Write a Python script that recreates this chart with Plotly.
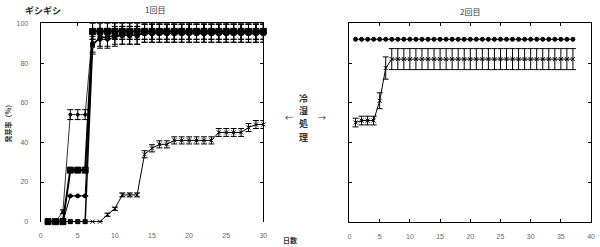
import plotly.graph_objects as go

# ---- data: 1回目 (left) ----
days1 = list(range(1, 31))
ser_a = [0, 0, 5, 54, 54, 54] + [96] * 24
err_a = [0, 0, 1, 2.5, 2.5, 2.5] + [4] * 24
ser_b = [0, 0, 0, 26, 26, 26] + [96] * 24
err_b = [0, 0, 0, 1, 1, 1] + [4] * 24
ser_c = [0, 0, 0, 13, 13, 13, 90, 92, 92, 93, 94, 94, 94] + [95] * 17
err_c = [0] * 6 + [4.5] * 24
ser_d = [0, 0, 0, 0, 0, 0, 89, 93, 93, 94, 94, 94, 94] + [95] * 17
err_d = [0] * 6 + [4.5] * 24
ser_e = [0, 0, 0, 0, 0, 0, 0, 0, 3.5, 6.5, 13.5, 13.5, 13.5, 34, 37, 39, 39,
         41, 41, 41, 41, 41, 41, 45, 45, 45, 45, 47.5, 49, 49]
err_e = [0] * 8 + [0.8, 0.8, 1, 1, 1, 1.8, 1.8, 1.8, 1.8, 1.8, 1.8, 1.8, 1.8,
                   1.8, 1.8, 2, 2, 2, 2, 2, 2, 2]

# ---- data: 2回目 (right) ----
days2 = list(range(1, 38))
ser_f = [92] * 37
ser_g = [50, 51, 51, 51, 61, 77.5] + [82] * 31
err_g = [2.2, 2.2, 2.2, 2.2, 4, 5.6] + [5.3] * 31

x_ticks1 = [0, 5, 10, 15, 20, 25, 30]
x_ticks2 = [0, 5, 10, 15, 20, 25, 30, 35, 40]
y_ticks = [0, 20, 40, 60, 80, 100]

W, H = 600, 247
def px(x):
    return x / W
def py(y):
    return 1 - y / H

fig = go.Figure()

def add(xs, ys, errs, symbol, size, lw, xa, ya, capw=3):
    fig.add_trace(go.Scatter(
        x=xs, y=ys, mode="lines+markers", xaxis=xa, yaxis=ya,
        line=dict(color="black", width=lw),
        marker=dict(symbol=symbol, size=size, color="black",
                    line=dict(color="black", width=1)),
        error_y=dict(type="data", array=errs, color="black",
                     thickness=1, width=capw) if errs is not None else None,
        cliponaxis=False, showlegend=False))

add(days1, ser_e, err_e, "x-thin", 4, 1, "x", "y")
add(days1, ser_a, err_a, "circle", 3, 0.8, "x", "y")
add(days1, ser_c, err_c, "circle", 4, 1, "x", "y")
add(days1, ser_d, err_d, "square", 4, 1.5, "x", "y")
add(days1, ser_b, err_b, "square", 6, 2, "x", "y")

add(days2, ser_f, None, "circle", 4, 1, "x2", "y2")
add(days2, ser_g, err_g, "x-thin", 4, 1, "x2", "y2")

tickfont = dict(family="Liberation Sans, Arial", size=7, color="#666")
dom_y = [py(224), py(20)]

fig.update_layout(
    width=W, height=H, margin=dict(l=0, r=0, t=0, b=0),
    paper_bgcolor="white", plot_bgcolor="white",
    xaxis=dict(domain=[px(39), px(264)], range=[0, 30], tickvals=x_ticks1,
               showline=False, ticks="", showgrid=False, zeroline=False,
               tickfont=tickfont, ticklabelstandoff=8, anchor="y"),
    xaxis3=dict(overlaying="x", side="top", anchor="y", range=[0, 30],
                tickvals=[5, 10, 15, 20, 25], showticklabels=False,
                showline=True, linecolor="black", linewidth=1,
                ticks="inside", ticklen=3, tickcolor="black",
                showgrid=False, zeroline=False),
    yaxis=dict(domain=dom_y, range=[0, 100], tickvals=y_ticks,
               showline=True, linecolor="black", linewidth=1, mirror="ticks",
               ticks="inside", ticklen=3, tickcolor="black",
               showgrid=False, zeroline=False, tickfont=tickfont,
               ticklabelstandoff=10, anchor="x"),
    xaxis2=dict(domain=[px(351), px(595)], range=[0, 40], tickvals=x_ticks2,
                showline=True, linecolor="black", linewidth=1, mirror="ticks",
                ticks="inside", ticklen=3, tickcolor="black",
                showgrid=False, zeroline=False, tickfont=tickfont,
                ticklabelstandoff=8, anchor="y2"),
    yaxis2=dict(domain=dom_y, range=[0, 100], tickvals=y_ticks,
                showticklabels=False,
                showline=True, linecolor="black", linewidth=1, mirror="ticks",
                ticks="inside", ticklen=3, tickcolor="black",
                showgrid=False, zeroline=False, anchor="x2"),
)
# invisible trace so the top axis of the left panel is drawn
fig.add_trace(go.Scatter(x=[0], y=[0], xaxis="x3", yaxis="y", mode="markers",
                         marker=dict(opacity=0), showlegend=False, hoverinfo="skip"))

jp = "Noto Sans CJK JP"
def ann(text, x, y, size=8, color="#333", angle=0, bold=False):
    fig.add_annotation(text=f"<b>{text}</b>" if bold else text,
                       x=px(x), y=py(y), xref="paper", yref="paper",
                       showarrow=False, textangle=angle,
                       font=dict(family=jp, size=size, color=color),
                       xanchor="center", yanchor="middle")

ann("ギシギシ", 41, 7, size=9, color="#222", bold=True)
ann("1回目", 155, 6, size=8)
ann("2回目", 473, 8, size=8)
ann("<b>発芽率（%）</b>", 6, 121, size=7, angle=-90)
ann("日数", 291, 243, size=7, bold=True)
ann("←", 290, 117, size=8)
ann("→", 323, 117, size=8)
for ch, yy in zip(["冷", "湿", "処", "理"], [97, 110, 123, 137]):
    ann(ch, 305, yy, size=9, bold=True)

fig.write_html("out.html")
